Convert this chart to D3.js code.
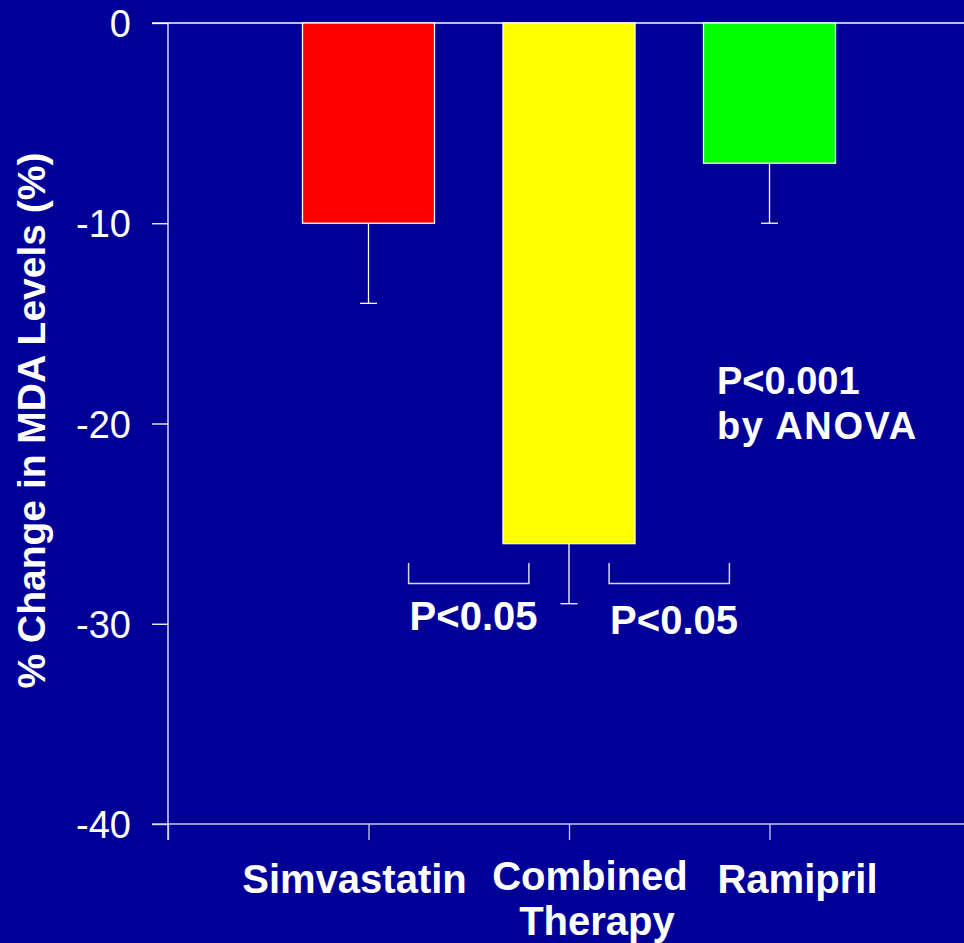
<!DOCTYPE html>
<html>
<head>
<meta charset="utf-8">
<script src="https://cdn.jsdelivr.net/npm/d3@7"></script>
<style>
  html, body { margin: 0; padding: 0; background: #000099; }
  svg { display: block; }
  text { font-family: "Liberation Sans", Arial, sans-serif; fill: #fff; }
</style>
</head>
<body>
<svg id="chart" width="964" height="943"></svg>
<script>
const categories = ["Simvastatin", "Combined Therapy", "Ramipril"];
const categoryLines = [["Simvastatin"], ["Combined", "Therapy"], ["Ramipril"]];
const values = [-10, -26, -7];
const errorLows = [-14, -29, -10];
const colors = ["#ff0000", "#ffff00", "#00ff00"];
const yTicks = [0, -10, -20, -30, -40];
const yTitle = "% Change in MDA Levels (%)";
const anovaText = ["P<0.001", "by ANOVA"];
const pairText = ["P<0.05", "P<0.05"];

const W = 964, H = 943;
const svg = d3.select("#chart");
svg.append("rect").attr("width", W).attr("height", H).attr("fill", "#000099");

const x = d3.scaleLinear().domain([0, 4]).range([168, 970]);
const y = d3.scaleLinear().domain([0, -40]).range([23, 824]);
const barW = 132;

// y axis
const yAxis = d3.axisLeft(y).tickValues(yTicks).tickSize(16).tickPadding(21).tickFormat(d => String(d));
const gy = svg.append("g").attr("transform", `translate(${x(0)},0)`).call(yAxis);
gy.select(".domain").remove();
gy.selectAll(".tick line").attr("stroke", "#fff").attr("stroke-width", 1.3);
gy.selectAll(".tick text").attr("fill", "#fff").style("font-size", "38px")
  .style("font-family", "'Liberation Sans', Arial, sans-serif").attr("dy", "0.36em");
// vertical axis line
svg.append("line").attr("x1", x(0)).attr("x2", x(0)).attr("y1", y(0)).attr("y2", y(-40) + 16)
  .attr("stroke", "#fff").attr("stroke-width", 1.3);
// zero line across
svg.append("line").attr("x1", x(0) - 16).attr("x2", W).attr("y1", y(0)).attr("y2", y(0))
  .attr("stroke", "#fff").attr("stroke-width", 1.3);

// x axis
const xAxis = d3.axisBottom(x).tickValues([0, 1, 2, 3, 4]).tickSize(16).tickFormat("");
const gx = svg.append("g").attr("transform", `translate(0,${y(-40)})`).call(xAxis);
gx.select(".domain").remove();
gx.selectAll(".tick line").attr("stroke", "#d0d0e8").attr("stroke-width", 1.3);
svg.append("line").attr("x1", x(0) - 16).attr("x2", W).attr("y1", y(-40)).attr("y2", y(-40))
  .attr("stroke", "#c8c8e0").attr("stroke-width", 1.5);

// bars
const idx = categories.map((c, i) => i);
svg.selectAll("rect.bar").data(idx).join("rect").attr("class", "bar")
  .attr("x", i => x(i + 1) - barW / 2)
  .attr("y", y(0))
  .attr("width", barW)
  .attr("height", i => y(values[i]) - y(0))
  .attr("fill", i => colors[i])
  .attr("stroke", "#fff").attr("stroke-width", 1.3);

// error bars
svg.selectAll("line.err").data(idx).join("line").attr("class", "err")
  .attr("x1", i => x(i + 1)).attr("x2", i => x(i + 1))
  .attr("y1", i => y(values[i])).attr("y2", i => y(errorLows[i]))
  .attr("stroke", "#fff").attr("stroke-width", 1.3);
svg.selectAll("line.cap").data(idx).join("line").attr("class", "cap")
  .attr("x1", i => x(i + 1) - 8.5).attr("x2", i => x(i + 1) + 8.5)
  .attr("y1", i => y(errorLows[i])).attr("y2", i => y(errorLows[i]))
  .attr("stroke", "#fff").attr("stroke-width", 1.3);

// category labels
const labelDx = [-14, 21, 28];
const labelG = svg.append("g");
categoryLines.forEach((lines, i) => {
  const t = labelG.append("text")
    .attr("x", x(i + 1) + labelDx[i])
    .attr("y", i === 1 ? 890 : 893)
    .attr("text-anchor", "middle")
    .style("font-size", "40px").style("font-weight", "bold");
  lines.forEach((ln, j) => {
    t.append("tspan").attr("x", x(i + 1) + labelDx[i] + (j === 1 ? 7 : 0))
      .attr("dy", j === 0 ? 0 : 45).text(ln);
  });
});

// y title
svg.append("text")
  .attr("transform", `translate(45,${y(-20) - 3}) rotate(-90)`)
  .attr("text-anchor", "middle")
  .style("font-size", "39px").style("font-weight", "bold")
  .text(yTitle);

// ANOVA annotation
const an = svg.append("text").attr("x", 717).attr("y", 394)
  .style("font-size", "38px").style("font-weight", "bold");
anovaText.forEach((t, j) => an.append("tspan").attr("x", 717).attr("dy", j === 0 ? 0 : 45)
  .style("letter-spacing", j === 0 ? "0px" : "1.6px").text(t));

// pairwise brackets
const brackets = [[x(1.2), x(1.8)], [x(2.2), x(2.8)]];
const bTop = 563, bBot = 583.5;
brackets.forEach(([a, b], k) => {
  svg.append("path")
    .attr("d", `M${a},${bTop}V${bBot}H${b}V${bTop}`)
    .attr("fill", "none").attr("stroke", "#d8d8ee").attr("stroke-width", 1.5);
  svg.append("text").attr("x", a + 1).attr("y", k === 0 ? 630 : 634)
    .style("font-size", "40px").style("font-weight", "bold")
    .text(pairText[k]);
});
</script>
</body>
</html>
